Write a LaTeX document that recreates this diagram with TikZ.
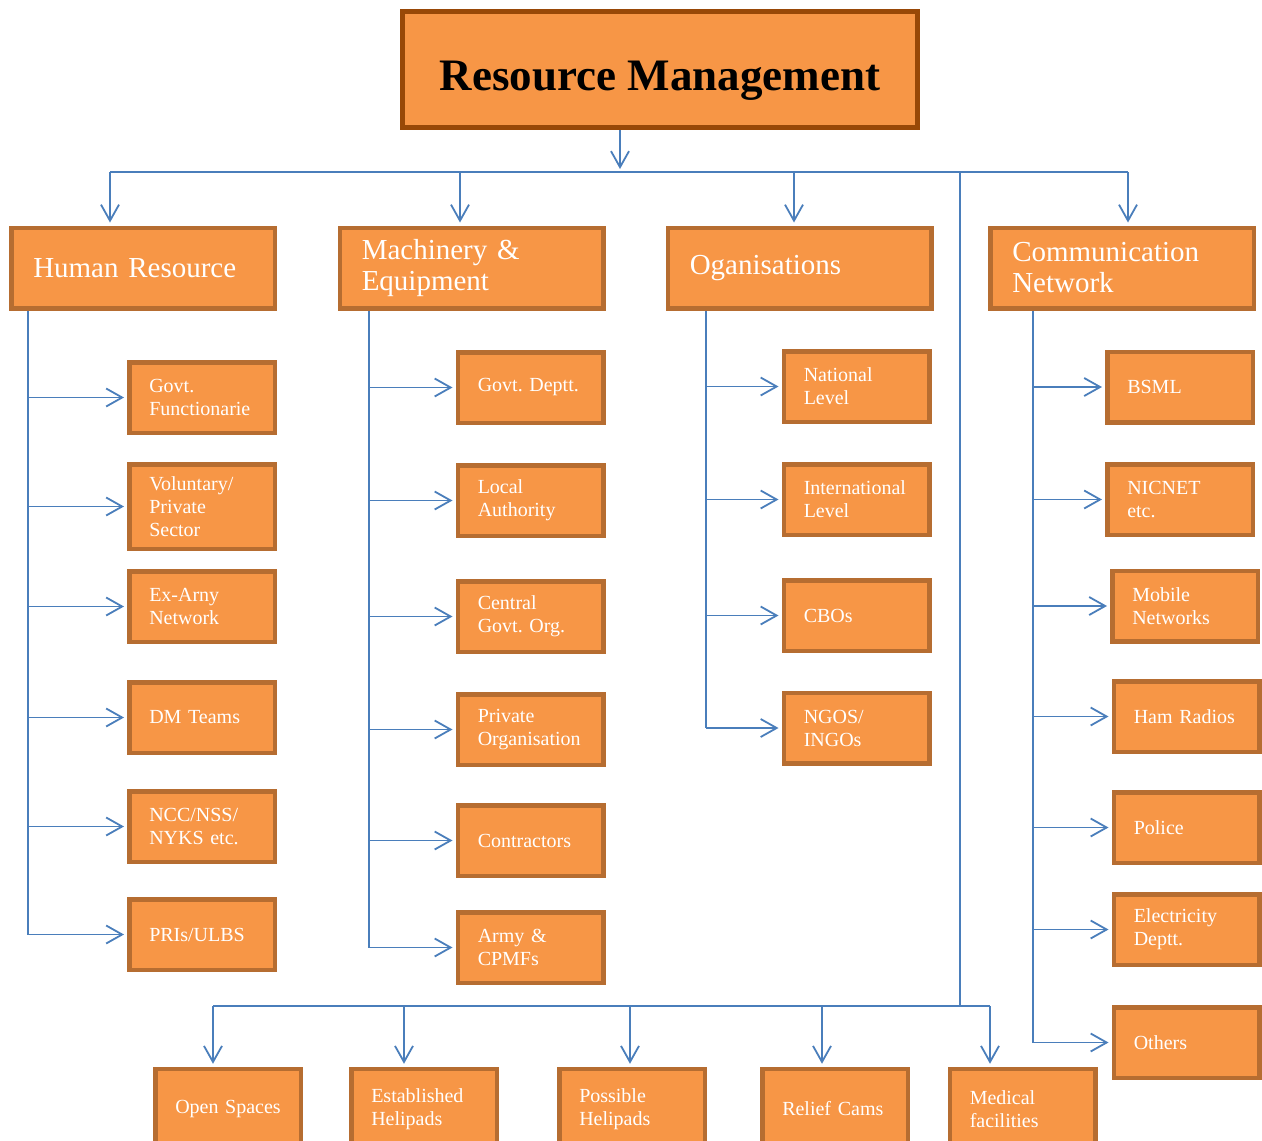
\documentclass[tikz,border=0pt]{standalone}
\usepackage{fontspec}
\setmainfont{Liberation Serif}
\usetikzlibrary{arrows.meta}
\definecolor{boxfill}{HTML}{F79646}
\definecolor{boxedge}{HTML}{B66D31}
\definecolor{titleedge}{HTML}{984807}
\definecolor{linkblue}{HTML}{4A7EBB}
\frenchspacing
\tikzset{
	box/.style={draw=boxedge, fill=boxfill, line width=4.5pt, text=white, align=left, inner ysep=3pt},
	leaf/.style={box, inner xsep=20pt, text width=105.5pt, minimum height=70.5pt, font=\fontsize{20}{23}\selectfont},
	head/.style={box, inner xsep=22pt, text width=219.5pt, minimum height=80.5pt, font=\fontsize{29}{31}\selectfont},
	link/.style={draw=linkblue, line width=1.8pt},
	arr/.style={link, shorten >=3pt, -{Straight Barb[length=16pt, width=18pt]}},
}
\begin{document}
\begin{tikzpicture}[x=1pt, y=-1pt]
	\useasboundingbox (0,0) rectangle (1262,1141);
	\clip (0,0) rectangle (1262,1141);

	\node[box, draw=titleedge, line width=5pt, text=black, align=center, minimum width=515pt, minimum height=116pt, text height=41pt, text depth=0pt, font=\fontsize{45}{50}\selectfont\bfseries] (title) at (660,69.5) {Resource Management};

	\foreach \n/\x/\t in {hr/143/{Human Resource}, mach/471.5/{Machinery \&\\Equipment}, org/799.5/{Oganisations}, comm/1122/{Communication\\Network}}
	{
		\node[head] (\n) at (\x,268) {\t};
	}

	\foreach \n/\y/\h/\t in {hr1/397.5/70.5/{Govt.\\Functionarie}, hr2/506.5/84.5/{Voluntary/\\Private\\Sector}, hr3/606.5/70.5/{Ex-Arny\\Network}, hr4/717.5/70.5/{DM Teams}, hr5/826.5/70.5/{NCC/NSS/\\NYKS etc.}, hr6/934.5/70.5/{PRIs/ULBS}}
	{
		\node[leaf, minimum height=\h pt] (\n) at (202,\y) {\t};
	}
	\foreach \n/\y/\t in {me1/387.5/{Govt. Deptt.}, me2/500.5/{Local\\Authority}, me3/616.5/{Central\\Govt. Org.}, me4/729.5/{Private\\Organisation}, me5/840.5/{Contractors}, me6/947.5/{Army \&\\CPMFs}}
	{
		\node[leaf] (\n) at (530.5,\y) {\t};
	}
	\foreach \n/\y/\t in {or1/386.5/{National\\Level}, or2/499.5/{International\\Level}, or3/615.5/{CBOs}, or4/728/{NGOS/\\INGOs}}
	{
		\node[leaf] (\n) at (856.5,\y) {\t};
	}
	\foreach \n/\x/\y/\t in {cn1/1180/387/{BSML}, cn2/1180/499.5/{NICNET\\etc.}, cn3/1185/606/{Mobile\\Networks}, cn4/1186.5/716.5/{Ham Radios}, cn5/1186.5/827.5/{Police}, cn6/1186.5/929.5/{Electricity\\Deptt.}, cn7/1186.5/1042.5/{Others}}
	{
		\node[leaf] (\n) at (\x,\y) {\t};
	}
	\foreach \n/\x/\t in {bt1/228/{Open~Spaces}, bt2/424/{Established\\Helipads}, bt3/632/{Possible\\Helipads}, bt4/835/{Relief Cams}, bt5/1022.5/{Medical\\facilities}}
	{
		\node[leaf, minimum height=80pt] (\n) at (\x,1109) {\t};
	}

	\coordinate (busL) at (110,172);
	\coordinate (busR) at (1128,172);
	\draw[link] (busL) -- (busR);
	\coordinate (tin) at ([xshift=-40pt]title.south);
	\draw[arr] (tin) -- (tin |- busL);
	\foreach \n/\d in {hr/-33pt, mach/-11.5pt, org/-5.5pt, comm/6pt}
	{
		\coordinate (\n in) at ([xshift=\d]\n.north);
		\draw[arr] (\n in |- busL) -- (\n in);
	}

	\coordinate (vtop) at (960,172);
	\coordinate (botL) at (213,1006);
	\coordinate (botR) at (990,1006);
	\draw[link] (vtop) -- (vtop |- botL);
	\draw[link] (botL) -- (botR);
	\foreach \n/\d in {bt1/-15pt, bt2/-20pt, bt3/-2pt, bt4/-13pt, bt5/-32.5pt}
	{
		\coordinate (\n in) at ([xshift=\d]\n.north);
		\draw[arr] (\n in |- botL) -- (\n in);
	}

	\foreach \c/\x/\last/\list in {hr/28/hr6/{hr1,hr2,hr3,hr4,hr5,hr6}, mach/369/me6/{me1,me2,me3,me4,me5,me6}, org/706/or4/{or1,or2,or3,or4}, comm/1033/cn7/{cn1,cn2,cn3,cn4,cn5,cn6,cn7}}
	{
		\coordinate (\c trunk) at (\x,0);
		\draw[link] (\c.south -| \c trunk) -- (\c trunk |- \last.west);
		\foreach \n in \list
		{
			\draw[arr] (\c trunk |- \n.west) -- (\n.west);
		}
	}
\end{tikzpicture}
\end{document}
